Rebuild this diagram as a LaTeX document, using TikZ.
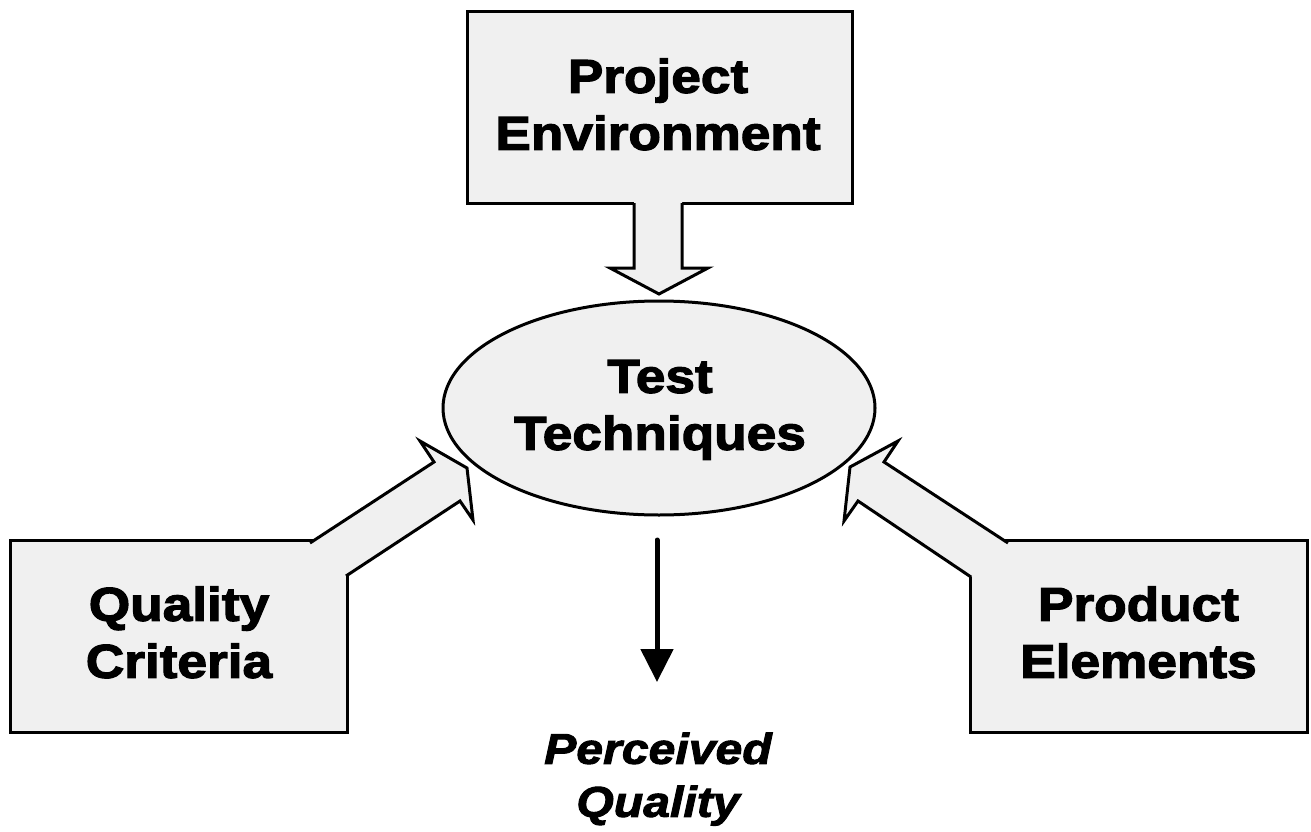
\documentclass[tikz,border=0pt]{standalone}
\usepackage{fontspec}
\newfontfamily\lblfont{Liberation Sans}[FakeStretch=1.12, BoldFeatures={FakeBold=2.6}, BoldItalicFeatures={FakeBold=2.2}]
\usetikzlibrary{shapes.geometric,arrows.meta}
\definecolor{boxfill}{HTML}{F0F0F0}
\tikzset{
  boxshape/.style={draw=black, line width=3pt, fill=boxfill, rectangle, inner sep=0pt},
  ellshape/.style={draw=black, line width=3pt, fill=boxfill, ellipse, inner sep=0pt},
  lbl/.style={anchor=south, inner sep=0pt, text depth=0pt, align=center,
    font=\lblfont\bfseries\fontsize{47.5}{57}\selectfont},
  lblit/.style={anchor=south, inner sep=0pt, text depth=0pt, align=center,
    font=\lblfont\bfseries\itshape\fontsize{43}{53}\selectfont},
  fatfill/.style={fill=boxfill, draw=none},
  fatline/.style={draw=black, line width=3pt, line join=miter},
}
\begin{document}
\begin{tikzpicture}[x=1pt, y=-1pt]
\useasboundingbox (0,0) rectangle (1311,832);
% boxes
\node[boxshape, minimum width=385, minimum height=191] (pe) at (659.5,107.5) {};
\node[boxshape, minimum width=337, minimum height=192] (qc) at (178.5,636) {};
\node[boxshape, minimum width=337, minimum height=192] (pel) at (1138.5,636) {};
\node[ellshape, minimum width=432, minimum height=214] (tt) at (659,408) {};
% top fat arrow
\fill[fatfill] (634,195) -- (634,268) -- (610,268) -- (659,294) -- (708,268) -- (682,268) -- (682,195) -- cycle;
\draw[fatline] (634,203) -- (634,268) -- (610,268) -- (659,294) -- (708,268) -- (682,268) -- (682,203);
% left fat arrow
\fill[fatfill] (273,567) -- (434,462) -- (420,441) -- (467,468) -- (473,520) -- (460,501) -- (299,607) -- cycle;
\draw[fatline] (310,543) -- (434,462) -- (420,441) -- (467,468) -- (473,520) -- (460,501) -- (346,576);
% right fat arrow
\fill[fatfill] (1045,567) -- (884,462) -- (898,441) -- (850,467) -- (844,521) -- (858,501) -- (1010,602) -- cycle;
\draw[fatline] (1008,543) -- (884,462) -- (898,441) -- (850,467) -- (844,521) -- (858,501) -- (971,577);
% labels
\node[lbl] (pet) at (658,150) {Project\\Environment};
\node[lbl] (ttt) at (660,450) {Test\\Techniques};
\node[lbl] (qct) at (179,678) {Quality\\Criteria};
\node[lbl] (pelt) at (1138.5,678) {Product\\Elements};
\node[lblit] (pqt) at (658,817) {Perceived\\Quality};
% down arrow
\coordinate (d1) at (657,540);
\coordinate (d2) at (657,682);
\draw[line width=5pt, line cap=round, -{Triangle[length=33pt, width=32pt]}] (d1) -- (d2);
\end{tikzpicture}
\end{document}
